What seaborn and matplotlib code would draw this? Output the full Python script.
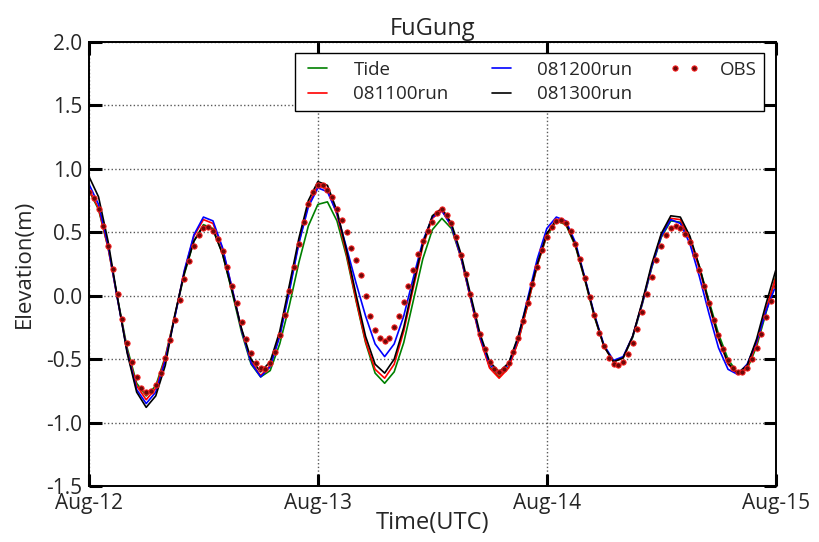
import numpy as np
import pandas as pd
import matplotlib
matplotlib.use("Agg")
import matplotlib.pyplot as plt
import matplotlib.dates as mdates
from matplotlib.ticker import FormatStrFormatter
import seaborn as sns

# hourly model output, Aug-12 00:00 .. Aug-15 00:00 (UTC)
tide = [0.83, 0.68, 0.38, -0.02, -0.41, -0.69, -0.79,
        -0.71, -0.48, -0.16, 0.17, 0.43, 0.56,
        0.53, 0.33, 0.03, -0.29, -0.54, -0.64,
        -0.59, -0.38, -0.08, 0.26, 0.55, 0.72,
        0.74, 0.59, 0.31, -0.04, -0.37, -0.61,
        -0.69, -0.60, -0.37, -0.04, 0.29, 0.52,
        0.61, 0.53, 0.30, -0.02, -0.33, -0.56, -0.64,
        -0.56, -0.36, -0.07, 0.24, 0.47, 0.59,
        0.56, 0.39, 0.12, -0.17, -0.40, -0.52,
        -0.49, -0.33, -0.07, 0.22, 0.46, 0.59,
        0.58, 0.45, 0.23, -0.04, -0.30, -0.50, -0.61,
        -0.58, -0.40, -0.13, 0.15]

run_0811 = [0.84, 0.69, 0.38, -0.03, -0.43, -0.71, -0.82,
            -0.73, -0.49, -0.16, 0.19, 0.47, 0.60,
            0.57, 0.37, 0.06, -0.27, -0.52, -0.63,
            -0.55, -0.31, 0.05, 0.42, 0.72, 0.87,
            0.84, 0.64, 0.33, -0.03, -0.36, -0.58,
            -0.65, -0.54, -0.28, 0.06, 0.39, 0.61,
            0.67, 0.55, 0.30, -0.02, -0.34, -0.57, -0.65,
            -0.57, -0.36, -0.07, 0.24, 0.48, 0.60,
            0.57, 0.40, 0.13, -0.16, -0.40, -0.52,
            -0.49, -0.32, -0.06, 0.23, 0.48, 0.61,
            0.60, 0.45, 0.21, -0.07, -0.34, -0.54, -0.62,
            -0.57, -0.38, -0.10, 0.14]

run_0812 = [0.88, 0.72, 0.40, -0.03, -0.44, -0.74, -0.85,
            -0.76, -0.51, -0.17, 0.20, 0.48, 0.62,
            0.59, 0.38, 0.06, -0.27, -0.53, -0.64,
            -0.56, -0.32, 0.03, 0.41, 0.70, 0.85,
            0.82, 0.65, 0.38, 0.10, -0.16, -0.38,
            -0.48, -0.38, -0.16, 0.14, 0.43, 0.62,
            0.67, 0.55, 0.31, -0.01, -0.32, -0.54, -0.62,
            -0.54, -0.33, -0.02, 0.29, 0.53, 0.62,
            0.59, 0.42, 0.14, -0.15, -0.39, -0.51,
            -0.48, -0.32, -0.06, 0.23, 0.47, 0.60,
            0.57, 0.41, 0.15, -0.14, -0.41, -0.58, -0.62,
            -0.54, -0.36, -0.12, 0.08]

run_0813 = [0.94, 0.78, 0.43, -0.02, -0.45, -0.76, -0.88,
            -0.79, -0.55, -0.15, 0.18, 0.43, 0.55,
            0.52, 0.33, 0.04, -0.26, -0.50, -0.60,
            -0.52, -0.28, 0.08, 0.45, 0.75, 0.90,
            0.87, 0.67, 0.36, 0.01, -0.32, -0.54,
            -0.61, -0.50, -0.25, 0.09, 0.41, 0.63,
            0.69, 0.57, 0.33, 0.01, -0.30, -0.52, -0.60,
            -0.53, -0.32, -0.04, 0.25, 0.49, 0.60,
            0.57, 0.40, 0.13, -0.16, -0.40, -0.52,
            -0.49, -0.32, -0.05, 0.25, 0.49, 0.63,
            0.62, 0.47, 0.23, -0.06, -0.33, -0.53, -0.61,
            -0.55, -0.34, -0.06, 0.20]

# observed water level, every 30 min
obs = [0.82, 0.77, 0.68, 0.55, 0.39, 0.21, 0.01, -0.18, -0.37, -0.52, -0.64, -0.73, -0.76,
       -0.75, -0.70, -0.61, -0.49, -0.35, -0.19, -0.03, 0.13, 0.27, 0.39, 0.48, 0.53,
       0.54, 0.51, 0.45, 0.35, 0.23, 0.08, -0.06, -0.21, -0.34, -0.45, -0.53, -0.57,
       -0.58, -0.53, -0.44, -0.31, -0.15, 0.04, 0.23, 0.41, 0.58, 0.72, 0.82, 0.87,
       0.87, 0.83, 0.78, 0.68, 0.60, 0.50, 0.38, 0.28, 0.16, 0.00, -0.16, -0.27,
       -0.33, -0.36, -0.33, -0.25, -0.16, -0.05, 0.08, 0.20, 0.33, 0.43, 0.51, 0.58,
       0.65, 0.68, 0.64, 0.57, 0.46, 0.32, 0.17, 0.01, -0.15, -0.30, -0.42, -0.52,
       -0.58, -0.60, -0.58, -0.53, -0.44, -0.33, -0.20, -0.06, 0.09, 0.23, 0.36, 0.46,
       0.54, 0.59, 0.60, 0.57, 0.51, 0.41, 0.29, 0.14, -0.01, -0.15, -0.29, -0.40,
       -0.49, -0.54, -0.55, -0.52, -0.46, -0.37, -0.26, -0.13, 0.01, 0.15, 0.28, 0.39,
       0.48, 0.53, 0.55, 0.53, 0.49, 0.42, 0.32, 0.20, 0.08, -0.06, -0.19, -0.31,
       -0.42, -0.51, -0.57, -0.60, -0.60, -0.57, -0.50, -0.41, -0.30, -0.17, -0.04, 0.08]

series_names = ['Tide', '081100run', '081200run', '081300run']
series_colors = ['g', 'r', 'b', 'k']
series_values = [tide, run_0811, run_0812, run_0813]

start = pd.Timestamp('2013-08-12')
model_time = start + pd.to_timedelta(np.arange(len(tide)), unit='h')
obs_time = start + pd.to_timedelta(np.arange(len(obs)) * 30, unit='min')

sns.set_style("ticks")
plt.rcParams['font.family'] = ['Open Sans', 'DejaVu Sans']
plt.rcParams['axes.unicode_minus'] = False

fig, ax = plt.subplots(figsize=(8.2, 5.42), dpi=100)
fig.subplots_adjust(left=0.1085, right=0.946, top=0.9225, bottom=0.1033)

handles = []
for name, color, vals in zip(series_names, series_colors, series_values):
    sns.lineplot(x=model_time, y=vals, color=color, lw=1.2, legend=False, ax=ax)
    ax.lines[-1].set_label(name)
    handles.append(ax.lines[-1])

sns.lineplot(x=obs_time, y=obs, marker='o', linestyle='none', markersize=3.8,
             markerfacecolor='#6e0808', markeredgecolor='#ff2020',
             markeredgewidth=0.7, color='#7a0a0a', legend=False, ax=ax)
ax.lines[-1].set_label('OBS')
handles.append(ax.lines[-1])

ax.set_xlim(start, start + pd.Timedelta(days=3))
ax.set_xticks(pd.date_range(start, periods=4, freq='D'))
ax.xaxis.set_major_formatter(mdates.DateFormatter('%b-%d'))
ax.set_ylim(-1.5, 2.0)
ax.set_yticks(np.arange(-1.5, 2.01, 0.5))
ax.yaxis.set_major_formatter(FormatStrFormatter('%.1f'))

ax.grid(True, linestyle=':', color='0.35', linewidth=1)
ax.set_axisbelow(True)
ax.tick_params(direction='in', length=9, width=2.2, top=True, right=True,
               labelsize=15, pad=5, color='k')
for sp in ax.spines.values():
    sp.set_linewidth(1.4)
    sp.set_color('k')

ax.set_title('FuGung', fontsize=17, pad=5)
ax.set_xlabel('Time(UTC)', fontsize=17, labelpad=-2)
ax.set_ylabel('Elevation(m)', fontsize=16, labelpad=8)

leg = ax.legend(handles, [h.get_label() for h in handles], loc='upper right', ncol=3,
                fontsize=13.5, fancybox=False, framealpha=1, edgecolor='k',
                numpoints=2, handlelength=1.6, handletextpad=1.1, columnspacing=2.0,
                borderaxespad=0.6, labelspacing=0.35, borderpad=0.4)
leg.get_frame().set_linewidth(1.0)

fig.savefig('out.png', dpi=100)
